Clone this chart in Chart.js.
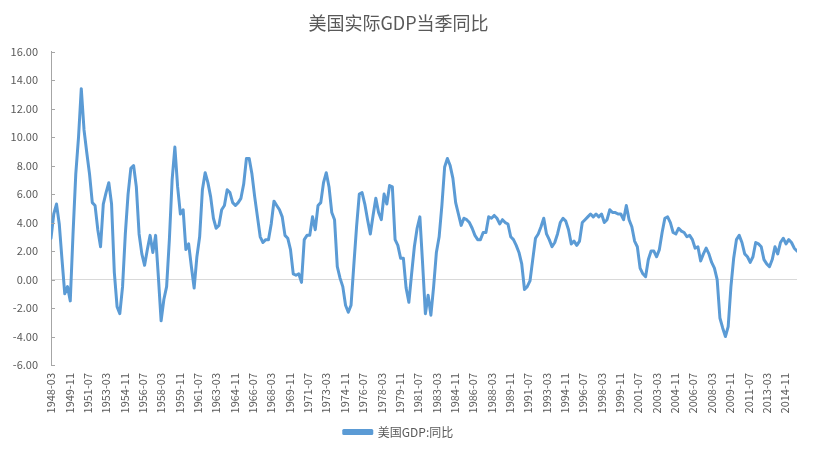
<!DOCTYPE html>
<html>
<head>
<meta charset="utf-8">
<script src="https://cdn.jsdelivr.net/npm/chart.js@4/dist/chart.umd.min.js"></script>
<style>
  body { margin: 0; background: #ffffff; }
  #grafico { display: block; }
</style>
</head>
<body>
<canvas id="grafico" width="813" height="452"></canvas>
<script>
// série trimestral, começa em 1948-03 (um valor por trimestre)
const startMonth = '1948-03';
const gdpYoY = [
  2.9, 4.6, 5.3, 3.9, 1.4, -1.0, -0.5, -1.5, 3.2, 7.4,
  10.0, 13.4, 10.5, 8.9, 7.4, 5.4, 5.2, 3.5, 2.3, 5.3,
  6.1, 6.8, 5.3, 0.5, -1.9, -2.4, -0.5, 3.2, 6.0, 7.8,
  8.0, 6.5, 3.2, 1.8, 1.0, 2.1, 3.1, 1.9, 3.1, 0.2,
  -2.9, -1.4, -0.5, 2.8, 7.0, 9.3, 6.5, 4.6, 4.9, 2.1,
  2.5, 0.9, -0.6, 1.6, 3.0, 6.3, 7.5, 6.8, 5.8, 4.3,
  3.6, 3.8, 4.9, 5.2, 6.3, 6.1, 5.4, 5.2, 5.4, 5.7,
  6.7, 8.5, 8.5, 7.4, 5.8, 4.4, 3.0, 2.6, 2.8, 2.8,
  3.9, 5.5, 5.2, 4.9, 4.4, 3.1, 2.9, 2.1, 0.4, 0.3,
  0.4, -0.2, 2.8, 3.1, 3.1, 4.4, 3.5, 5.2, 5.4, 6.8,
  7.5, 6.5, 4.7, 4.2, 0.9, 0.1, -0.5, -1.8, -2.3, -1.8,
  1.0, 3.7, 6.0, 6.1, 5.3, 4.2, 3.2, 4.5, 5.7, 4.7,
  4.2, 6.0, 5.3, 6.6, 6.5, 2.8, 2.4, 1.5, 1.5, -0.6,
  -1.6, 0.4, 2.3, 3.6, 4.4, 1.1, -2.4, -1.1, -2.5, -0.5,
  1.9, 3.0, 5.2, 7.9, 8.5, 8.0, 7.1, 5.4, 4.6, 3.8,
  4.3, 4.2, 4.0, 3.6, 3.1, 2.8, 2.8, 3.3, 3.3, 4.4,
  4.3, 4.5, 4.3, 3.9, 4.2, 4.0, 3.9, 3.0, 2.8, 2.4,
  1.9, 1.1, -0.7, -0.5, -0.1, 1.4, 2.9, 3.2, 3.7, 4.3,
  3.2, 2.8, 2.3, 2.6, 3.2, 4.0, 4.3, 4.1, 3.5, 2.5,
  2.7, 2.4, 2.7, 4.0, 4.2, 4.4, 4.6, 4.4, 4.6, 4.4,
  4.6, 4.0, 4.2, 4.9, 4.7, 4.7, 4.6, 4.6, 4.2, 5.2,
  4.2, 3.7, 2.7, 2.3, 0.8, 0.4, 0.2, 1.4, 2.0, 2.0,
  1.6, 2.1, 3.3, 4.3, 4.4, 4.0, 3.3, 3.2, 3.6, 3.4,
  3.3, 3.0, 3.1, 2.8, 2.2, 2.3, 1.3, 1.8, 2.2, 1.8,
  1.2, 0.8, 0.0, -2.7, -3.4, -4.0, -3.3, -0.5, 1.5, 2.8,
  3.1, 2.6, 1.8, 1.6, 1.2, 1.6, 2.6, 2.5, 2.3, 1.4,
  1.1, 0.9, 1.4, 2.3, 1.8, 2.6, 2.9, 2.5, 2.8, 2.6,
  2.2, 2.0
];
// rótulos do eixo X (a cada 20 meses, como no Excel)
const tickLabels = [
  '1948-03', '1949-11', '1951-07', '1953-03', '1954-11', '1956-07', '1958-03',
  '1959-11', '1961-07', '1963-03', '1964-11', '1966-07', '1968-03', '1969-11',
  '1971-07', '1973-03', '1974-11', '1976-07', '1978-03', '1979-11', '1981-07',
  '1983-03', '1984-11', '1986-07', '1988-03', '1989-11', '1991-07', '1993-03',
  '1994-11', '1996-07', '1998-03', '1999-11', '2001-07', '2003-03', '2004-11',
  '2006-07', '2008-03', '2009-11', '2011-07', '2013-03', '2014-11'
];
const yTicks = [-6, -4, -2, 0, 2, 4, 6, 8, 10, 12, 14, 16];

const fonte = '"Noto Sans CJK SC", "Liberation Sans", sans-serif';
const cinza = '#595959';

// eixo X em meses desde 1948-03; cada trimestre = 3 meses
const pontos = gdpYoY.map((v, i) => ({ x: i * 3, y: v }));
const ultimoMes = (gdpYoY.length - 1) * 3;

// marquinhas do eixo Y para dentro da área do gráfico
const marcasY = {
  id: 'marcasY',
  afterDraw(chart) {
    const y = chart.scales.y;
    const c = chart.ctx;
    c.save();
    c.strokeStyle = '#a6a6a6';
    c.lineWidth = 1;
    y.ticks.forEach(t => {
      const py = Math.round(y.getPixelForValue(t.value)) + 0.5;
      c.beginPath();
      c.moveTo(chart.chartArea.left, py);
      c.lineTo(chart.chartArea.left + 4, py);
      c.stroke();
    });
    c.restore();
  }
};

new Chart(document.getElementById('grafico').getContext('2d'), {
  type: 'line',
  data: {
    datasets: [{
      label: '美国GDP:同比',
      data: pontos,
      borderColor: '#5b9bd5',
      backgroundColor: '#5b9bd5',
      borderWidth: 3,
      borderJoinStyle: 'round',
      borderCapStyle: 'round',
      pointRadius: 0,
      tension: 0,
      fill: false
    }]
  },
  options: {
    responsive: false,
    devicePixelRatio: 1,
    animation: false,
    layout: { padding: { left: 0, right: 16, top: 0, bottom: 4 } },
    plugins: {
      title: {
        display: true,
        text: '美国实际GDP当季同比',
        color: cinza,
        font: { family: fonte, size: 18, weight: 'normal' },
        padding: { top: 12, bottom: 18 }
      },
      legend: {
        position: 'bottom',
        labels: {
          color: cinza,
          font: { family: fonte, size: 12 },
          boxWidth: 28,
          boxHeight: 3,
          padding: 10
        }
      },
      tooltip: { enabled: false }
    },
    scales: {
      x: {
        type: 'linear',
        min: 0,
        max: ultimoMes,
        afterBuildTicks: s => { s.ticks = tickLabels.map((l, k) => ({ value: k * 20 })); },
        afterFit: s => { s.height = 51; },
        border: { display: false },
        grid: { display: false, drawTicks: false },
        ticks: {
          autoSkip: false,
          minRotation: 90,
          maxRotation: 90,
          padding: 8,
          color: cinza,
          font: { family: fonte, size: 11 },
          callback: v => tickLabels[Math.round(v / 20)] || ''
        }
      },
      y: {
        min: -6,
        max: 16,
        afterBuildTicks: s => { s.ticks = yTicks.map(v => ({ value: v })); },
        afterFit: s => { s.width = 51; },
        border: { display: true, color: '#a6a6a6', width: 1 },
        grid: {
          drawTicks: false,
          color: ctx => (ctx.tick && ctx.tick.value === 0 ? '#d9d9d9' : 'rgba(0,0,0,0)'),
          lineWidth: 1
        },
        ticks: {
          padding: 13,
          color: cinza,
          font: { family: fonte, size: 11 },
          callback: v => v.toFixed(2)
        }
      }
    }
  },
  plugins: [marcasY]
});
</script>
</body>
</html>
